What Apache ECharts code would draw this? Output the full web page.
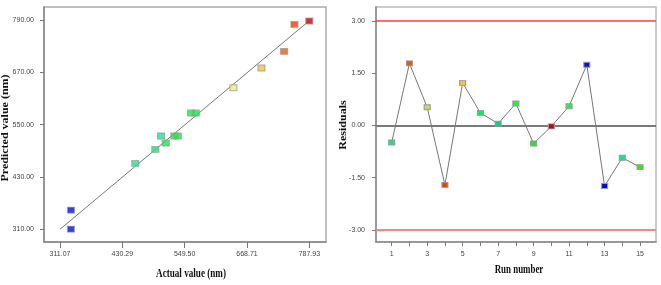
<!DOCTYPE html>
<html>
<head>
<meta charset="utf-8">
<script src="https://cdn.jsdelivr.net/npm/echarts@6/dist/echarts.min.js"></script>
<style>html,body{margin:0;padding:0;background:#fff;}#c{width:661px;height:285px;}</style>
</head>
<body>
<div id="c"></div>
<script>
// Left panel: predicted vs actual
const actualValues    = [787.9, 759.4, 739.7, 696.3, 642.8, 561.8, 570.7, 504.3, 529.8, 536.3, 513.3, 493.4, 455.2, 332.1, 332.0];
const predictedValues = [787.7, 780.0, 718.0, 680.0, 634.7, 576.6, 576.6, 524.0, 524.0, 524.0, 507.8, 493.3, 461.2, 354.0, 310.4];
const fitLineX = [311.07, 787.93];
const fitLineY = [310.0, 788.5];
const actualTicks = [311.07, 430.29, 549.50, 668.71, 787.93];
const predictedTicks = [310.00, 430.00, 550.00, 670.00, 790.00];

// Right panel: residuals vs run
const runNumbers = [1, 2, 3, 4, 5, 6, 7, 8, 9, 10, 11, 12, 13, 14, 15];
const residuals = [-0.49, 1.78, 0.52, -1.71, 1.22, 0.36, 0.05, 0.63, -0.52, -0.03, 0.55, 1.74, -1.74, -0.93, -1.20];
const runTickLabels = [1, 3, 5, 7, 9, 11, 13, 15];
const residualTicks = [-3.00, -1.50, 0.00, 1.50, 3.00];
const upperLimit = 3.00;
const lowerLimit = -3.00;
const zeroLine = 0.00;

// styles (colour per point)
const leftColors = ['#d40000', '#f04000', '#f05a08', '#f8c040', '#f0f070', '#10f040', '#10f040', '#10e890', '#10f040', '#10f040', '#10f040', '#10e878', '#10e890', '#0010e8', '#0010e8'];
const runColors = ['#10e888', '#e85a08', '#c4dc60', '#f04000', '#f8c040', '#10e858', '#00d880', '#20f040', '#20e828', '#d00000', '#20f050', '#0010e0', '#0010d0', '#10e888', '#30e818'];

const chart = echarts.init(document.getElementById('c'), null, {renderer: 'canvas'});
const lblFont = {fontFamily: 'Liberation Sans', fontSize: 7, color: '#444'};
const titleFont = 'bold 12px "Liberation Serif"';

function hLine(value, color, width) {
  return {type: 'line', xAxisIndex: 1, yAxisIndex: 1, data: [], silent: true, z: 4,
    markLine: {silent: true, symbol: ['none', 'none'], label: {show: false}, animation: false, z: 4,
      data: [{yAxis: value, lineStyle: {color: color, width: width, type: 'solid', opacity: 1}}]}};
}

const option = {
  animation: false,
  backgroundColor: '#fff',
  grid: [
    {left: 44, right: 335, top: 7, bottom: 43, show: true, borderColor: '#aaa', borderWidth: 1.5, backgroundColor: '#fff'},
    {left: 376, right: 5, top: 7, bottom: 43, show: true, borderColor: '#bbb', borderWidth: 1.5, backgroundColor: '#fff'}
  ],
  xAxis: [
    {type: 'value', gridIndex: 0, min: 280.5, max: 819.8,
      axisLine: {show: true, onZero: false, lineStyle: {color: '#888', width: 1.5}},
      axisTick: {show: true, length: 6, customValues: actualTicks, lineStyle: {color: '#777'}},
      axisLabel: Object.assign({margin: 9, customValues: actualTicks, formatter: v => v.toFixed(2)}, lblFont),
      splitLine: {show: false}},
    {type: 'value', gridIndex: 1, min: 0.115, max: 15.9,
      axisLine: {show: true, onZero: false, lineStyle: {color: '#888', width: 1.5}},
      axisTick: {show: true, length: 4, customValues: runNumbers, lineStyle: {color: '#777'}},
      axisLabel: Object.assign({margin: 9, customValues: runTickLabels, formatter: v => String(v)}, lblFont),
      splitLine: {show: false}}
  ],
  yAxis: [
    {type: 'value', gridIndex: 0, min: 280.9, max: 819.8,
      axisLine: {show: true, onZero: false, lineStyle: {color: '#888', width: 1.5}},
      axisTick: {show: true, length: 4, customValues: predictedTicks, lineStyle: {color: '#777'}},
      axisLabel: Object.assign({margin: 10, customValues: predictedTicks, formatter: v => v.toFixed(2)}, lblFont),
      splitLine: {show: false}},
    {type: 'value', gridIndex: 1, min: -3.35, max: 3.40,
      axisLine: {show: true, onZero: false, lineStyle: {color: '#888', width: 1.5}},
      axisTick: {show: true, length: 4, customValues: residualTicks, lineStyle: {color: '#777'}},
      axisLabel: Object.assign({margin: 11, customValues: residualTicks, formatter: v => v.toFixed(2)}, lblFont),
      splitLine: {show: false}}
  ],
  series: [
    {type: 'line', xAxisIndex: 0, yAxisIndex: 0, symbol: 'none', silent: true,
      lineStyle: {color: '#777', width: 1},
      data: fitLineX.map((x, i) => [x, fitLineY[i]]), z: 2},
    {type: 'scatter', xAxisIndex: 0, yAxisIndex: 0, symbol: 'rect', symbolSize: [7, 6],
      data: actualValues.map((x, i) => ({value: [x, predictedValues[i]], itemStyle: {color: leftColors[i]}})),
      itemStyle: {borderColor: '#999', borderWidth: 1}, z: 3},
    hLine(upperLimit, '#ff3c3c', 1.5),
    hLine(lowerLimit, '#f08888', 2),
    hLine(zeroLine, '#7a7a7a', 2),
    {type: 'line', xAxisIndex: 1, yAxisIndex: 1, symbol: 'rect', symbolSize: [6, 5],
      lineStyle: {color: '#777', width: 1},
      data: runNumbers.map((r, i) => ({value: [r, residuals[i]], itemStyle: {color: runColors[i], borderColor: '#999', borderWidth: 1}})),
      z: 5}
  ],
  graphic: [
    {type: 'text', x: 191, y: 274, scaleX: 0.76, style: {text: 'Actual value (nm)', font: titleFont, fill: '#111', align: 'center', verticalAlign: 'middle'}},
    {type: 'text', x: 6, y: 128, rotation: Math.PI / 2, scaleY: 0.8, style: {text: 'Predicted value (nm)', font: titleFont, fill: '#111', align: 'center', verticalAlign: 'middle'}},
    {type: 'text', x: 519, y: 270, scaleX: 0.74, style: {text: 'Run number', font: titleFont, fill: '#111', align: 'center', verticalAlign: 'middle'}},
    {type: 'text', x: 344, y: 125, rotation: Math.PI / 2, scaleY: 0.8, style: {text: 'Residuals', font: titleFont, fill: '#111', align: 'center', verticalAlign: 'middle'}}
  ]
};
chart.setOption(option);
</script>
</body>
</html>
